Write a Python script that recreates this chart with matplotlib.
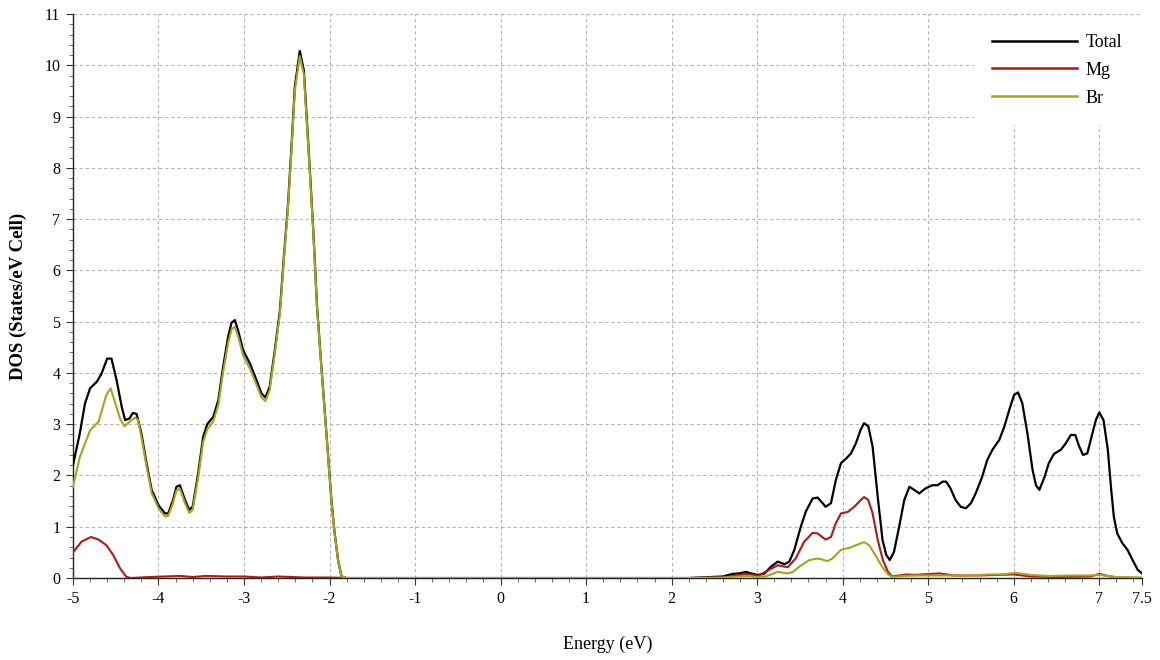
import matplotlib
matplotlib.use("Agg")
import matplotlib.pyplot as plt
from matplotlib.ticker import MultipleLocator, FixedLocator

# ---------------- data ----------------
total_e = [-5.0, -4.92, -4.86, -4.80, -4.72, -4.665, -4.60, -4.55, -4.49, -4.43,
           -4.39, -4.34, -4.30, -4.256, -4.20, -4.14, -4.08, -4.0, -3.925, -3.886,
           -3.83, -3.79, -3.75, -3.69, -3.64, -3.60, -3.536, -3.478, -3.43, -3.36,
           -3.30, -3.244, -3.186, -3.146, -3.107, -3.07, -3.01, -2.93, -2.854, -2.796,
           -2.75, -2.70, -2.64, -2.58, -2.54, -2.485, -2.445, -2.406, -2.348, -2.30,
           -2.27, -2.23, -2.19, -2.146, -2.095, -2.036, -1.978, -1.94, -1.90, -1.86,
           -1.80, 2.2, 2.6, 2.71, 2.79, 2.87, 2.93, 3.0, 3.08, 3.16,
           3.24, 3.32, 3.376, 3.435, 3.51, 3.57, 3.648, 3.706, 3.765, 3.80,
           3.863, 3.92, 3.98, 4.04, 4.097, 4.155, 4.21, 4.25, 4.30, 4.35,
           4.41, 4.466, 4.51, 4.55, 4.60, 4.66, 4.72, 4.78, 4.836, 4.895,
           4.97, 5.05, 5.11, 5.17, 5.21, 5.26, 5.32, 5.38, 5.44, 5.50,
           5.555, 5.63, 5.69, 5.75, 5.83, 5.89, 5.946, 6.004, 6.05, 6.10,
           6.16, 6.22, 6.26, 6.30, 6.36, 6.41, 6.47, 6.55, 6.61, 6.667,
           6.72, 6.76, 6.81, 6.86, 6.92, 6.96, 7.0, 7.05, 7.10, 7.14,
           7.17, 7.21, 7.27, 7.33, 7.39, 7.45, 7.5]
total_dos = [2.2, 2.82, 3.4, 3.70, 3.83, 3.99, 4.28, 4.28, 3.86, 3.34,
             3.08, 3.11, 3.22, 3.20, 2.82, 2.24, 1.72, 1.42, 1.26, 1.26,
             1.52, 1.78, 1.81, 1.52, 1.33, 1.39, 2.04, 2.75, 3.0, 3.14,
             3.47, 4.12, 4.70, 4.98, 5.03, 4.83, 4.44, 4.18, 3.86, 3.60,
             3.52, 3.73, 4.44, 5.22, 6.13, 7.30, 8.41, 9.58, 10.28, 9.9,
             9.06, 7.95, 6.78, 5.29, 4.12, 2.82, 1.52, 0.87, 0.35, 0.03,
             0.0, 0.0, 0.03, 0.08, 0.09, 0.12, 0.09, 0.06, 0.08, 0.22,
             0.32, 0.27, 0.32, 0.55, 1.0, 1.30, 1.55, 1.57, 1.46, 1.39,
             1.46, 1.91, 2.24, 2.33, 2.43, 2.63, 2.89, 3.02, 2.96, 2.56,
             1.58, 0.74, 0.45, 0.35, 0.51, 1.0, 1.52, 1.78, 1.72, 1.65,
             1.75, 1.81, 1.81, 1.88, 1.88, 1.75, 1.52, 1.39, 1.36, 1.46,
             1.65, 1.97, 2.30, 2.50, 2.69, 2.95, 3.27, 3.57, 3.62, 3.41,
             2.82, 2.11, 1.81, 1.72, 1.97, 2.24, 2.42, 2.50, 2.63, 2.79,
             2.79, 2.59, 2.40, 2.43, 2.82, 3.08, 3.23, 3.08, 2.50, 1.72,
             1.20, 0.87, 0.68, 0.55, 0.35, 0.16, 0.09]

br_e = [-5.0, -4.92, -4.80, -4.70, -4.61, -4.56, -4.51, -4.45, -4.40, -4.334,
        -4.276, -4.24, -4.20, -4.14, -4.08, -4.0, -3.925, -3.886, -3.83, -3.79,
        -3.75, -3.69, -3.64, -3.60, -3.536, -3.478, -3.43, -3.36, -3.30, -3.244,
        -3.186, -3.146, -3.107, -3.07, -3.01, -2.93, -2.854, -2.796, -2.75, -2.70,
        -2.64, -2.58, -2.54, -2.485, -2.445, -2.406, -2.348, -2.30, -2.27, -2.23,
        -2.19, -2.146, -2.095, -2.036, -1.978, -1.94, -1.90, -1.86, -1.80,
        2.2, 2.6, 2.8, 2.9, 3.0, 3.1, 3.24, 3.356, 3.42, 3.49,
        3.61, 3.70, 3.74, 3.82, 3.88, 3.98, 4.08, 4.155, 4.25, 4.31,
        4.37, 4.45, 4.53, 4.58, 4.7, 4.9, 5.2, 5.5, 5.7, 5.85,
        6.02, 6.2, 6.4, 6.7, 6.9, 7.0, 7.1, 7.2, 7.5]
br_dos = [1.78, 2.36, 2.88, 3.05, 3.57, 3.70, 3.44, 3.11, 2.96, 3.05,
          3.13, 3.08, 2.75, 2.18, 1.66, 1.36, 1.20, 1.21, 1.46, 1.71,
          1.74, 1.46, 1.27, 1.33, 1.96, 2.65, 2.90, 3.05, 3.38, 4.02,
          4.58, 4.85, 4.90, 4.72, 4.34, 4.08, 3.77, 3.52, 3.45, 3.66,
          4.38, 5.16, 6.07, 7.24, 8.35, 9.50, 10.18, 9.82, 9.00, 7.90,
          6.74, 5.26, 4.09, 2.80, 1.50, 0.86, 0.34, 0.03, 0.0,
          0.0, 0.01, 0.03, 0.04, 0.02, 0.03, 0.12, 0.09, 0.12, 0.22,
          0.35, 0.38, 0.37, 0.33, 0.38, 0.55, 0.59, 0.64, 0.70, 0.64,
          0.48, 0.25, 0.07, 0.02, 0.04, 0.05, 0.05, 0.05, 0.07, 0.07,
          0.10, 0.06, 0.04, 0.05, 0.05, 0.06, 0.04, 0.02, 0.01]

mg_e = [-5.0, -4.90, -4.79, -4.70, -4.61, -4.53, -4.45, -4.38, -4.33, -4.1,
        -3.75, -3.6, -3.45, -3.2, -3.0, -2.8, -2.6, -2.3, -2.0, -1.8,
        2.2, 2.6, 2.79, 2.89, 3.006, 3.14, 3.24, 3.356, 3.45, 3.55,
        3.648, 3.706, 3.80, 3.863, 3.92, 3.98, 4.06, 4.136, 4.21, 4.25,
        4.30, 4.35, 4.41, 4.47, 4.53, 4.58, 4.74, 4.84, 5.13, 5.30,
        5.6, 5.8, 6.0, 6.2, 6.5, 6.9, 7.0, 7.1, 7.2, 7.5]
mg_dos = [0.50, 0.71, 0.80, 0.75, 0.64, 0.45, 0.19, 0.03, 0.0, 0.02,
          0.04, 0.02, 0.04, 0.03, 0.03, 0.01, 0.03, 0.01, 0.01, 0.0,
          0.0, 0.01, 0.06, 0.08, 0.04, 0.16, 0.25, 0.21, 0.38, 0.71,
          0.88, 0.87, 0.75, 0.80, 1.07, 1.26, 1.29, 1.39, 1.52, 1.58,
          1.52, 1.26, 0.74, 0.35, 0.12, 0.03, 0.07, 0.06, 0.09, 0.05,
          0.05, 0.06, 0.07, 0.03, 0.02, 0.03, 0.08, 0.04, 0.01, 0.0]

series_labels = ["Total", "Mg", "Br"]
series_colors = ["#000000", "#b01818", "#a8a41a"]
x_ticks = [-5, -4, -3, -2, -1, 0, 1, 2, 3, 4, 5, 6, 7, 7.5]
x_ticklabels = ["-5", "-4", "-3", "-2", "-1", "0", "1", "2", "3", "4", "5", "6", "7", "7.5"]
y_ticks = list(range(0, 12))

# ---------------- plot ----------------
plt.rcParams['font.family'] = ['Liberation Serif', 'DejaVu Serif']

fig = plt.figure(figsize=(11.6, 6.6), dpi=100)
ax = fig.add_axes([0.0629, 0.1242, 0.9216, 0.8546])

l_tot, = ax.plot(total_e, total_dos, color=series_colors[0], lw=1.6, label=series_labels[0], zorder=3)
l_mg, = ax.plot(mg_e, mg_dos, color=series_colors[1], lw=1.5, label=series_labels[1], zorder=4)
l_br, = ax.plot(br_e, br_dos, color=series_colors[2], lw=1.5, label=series_labels[2], zorder=5)

ax.set_xlim(-5, 7.5)
ax.set_ylim(0, 11)
ax.xaxis.set_major_locator(FixedLocator(x_ticks))
ax.set_xticklabels(x_ticklabels)
ax.yaxis.set_major_locator(FixedLocator(y_ticks))
ax.xaxis.set_minor_locator(MultipleLocator(0.2))
ax.yaxis.set_minor_locator(MultipleLocator(0.2))

ax.grid(True, which='major', color='#b4b4b4', linestyle=(0, (3, 2.5)), linewidth=0.8)
ax.set_axisbelow(True)

for s in ['top', 'right']:
    ax.spines[s].set_visible(False)
for s in ['left', 'bottom']:
    ax.spines[s].set_color('#222222')
    ax.spines[s].set_linewidth(1.0)

ax.tick_params(which='major', direction='out', length=5, width=0.8, color='#333333',
               labelsize=11.5, pad=4)
ax.tick_params(which='minor', direction='out', length=3, width=0.6, color='#555555')

ax.set_xlabel("Energy (eV)", fontsize=13, labelpad=21)
ax.set_ylabel("DOS (States/eV Cell)", fontsize=13.5, fontweight='bold')
ax.yaxis.set_label_coords(-0.043, 0.5)

leg = ax.legend(handles=[l_tot, l_mg, l_br], loc='upper right', fontsize=13,
                frameon=True, fancybox=False, edgecolor='white', facecolor='white',
                framealpha=1.0, handlelength=4.7, handletextpad=0.5,
                labelspacing=0.6, borderpad=0.95, borderaxespad=0.15)
for line in leg.get_lines():
    line.set_linewidth(1.8)

fig.savefig("out.png", dpi=100)
